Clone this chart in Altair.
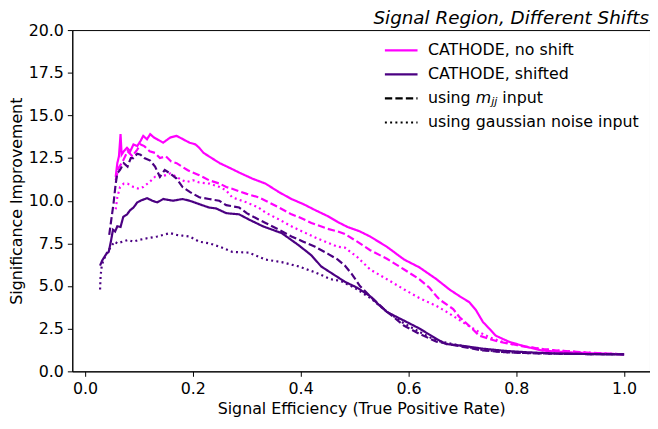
import altair as alt
import pandas as pd

# ---------------- data ----------------
ns_solid_x = [0.057, 0.060, 0.063, 0.066, 0.068, 0.072, 0.078, 0.084, 0.090, 0.097, 0.103, 0.108,
              0.115, 0.121, 0.128, 0.134, 0.145, 0.158, 0.170, 0.182, 0.194, 0.205, 0.212, 0.220,
              0.235, 0.250, 0.270, 0.286, 0.310, 0.335, 0.360, 0.383, 0.405, 0.427, 0.450, 0.469,
              0.487, 0.510, 0.529, 0.560, 0.592, 0.620, 0.652, 0.676, 0.695, 0.713, 0.725, 0.738,
              0.750, 0.762, 0.786, 0.817, 0.848, 0.880, 0.908, 0.950, 1.0]
ns_solid_y = [11.4, 12.2, 12.6, 13.9, 12.7, 12.9, 13.1, 12.9, 13.3, 13.2, 13.5, 13.8,
              13.6, 13.9, 13.7, 13.6, 13.4, 13.7, 13.8, 13.6, 13.4, 13.3, 13.1, 12.8,
              12.5, 12.2, 11.9, 11.65, 11.3, 11.0, 10.5, 10.1, 9.8, 9.45, 9.1, 8.75,
              8.46, 8.2, 7.9, 7.3, 6.55, 6.1, 5.4, 4.8, 4.4, 4.05, 3.6, 2.9,
              2.5, 2.09, 1.74, 1.45, 1.22, 1.15, 1.1, 1.05, 1.0]

ns_dash_x = [0.057, 0.062, 0.070, 0.079, 0.088, 0.097, 0.103, 0.110, 0.120, 0.130, 0.139, 0.150,
             0.160, 0.170, 0.180, 0.190, 0.200, 0.212, 0.230, 0.250, 0.262, 0.273, 0.300, 0.322,
             0.335, 0.360, 0.383, 0.396, 0.420, 0.450, 0.469, 0.482, 0.505, 0.529, 0.560, 0.592,
             0.620, 0.639, 0.652, 0.658, 0.683, 0.694, 0.715, 0.731, 0.750, 0.767, 0.790, 0.817,
             0.850, 0.877, 0.920, 0.960, 1.0]
ns_dash_y = [11.2, 11.9, 12.3, 12.9, 12.6, 13.0, 13.3, 13.2, 12.9, 12.8, 12.5, 12.6,
             12.3, 12.2, 12.0, 11.8, 11.65, 11.5, 11.2, 11.0, 10.8, 10.7, 10.4, 10.2,
             10.0, 9.6, 9.2, 9.05, 8.7, 8.35, 8.2, 8.05, 7.6, 7.1, 6.6, 5.97,
             5.4, 4.9, 4.4, 4.2, 3.65, 3.2, 2.6, 2.1, 1.9, 1.74, 1.6, 1.45,
             1.3, 1.22, 1.12, 1.05, 1.0]

ns_dot_x = [0.057, 0.060, 0.065, 0.072, 0.079, 0.090, 0.100, 0.108, 0.120, 0.130, 0.139, 0.150,
            0.158, 0.170, 0.180, 0.189, 0.200, 0.212, 0.231, 0.250, 0.262, 0.273, 0.300, 0.322,
            0.335, 0.360, 0.383, 0.396, 0.430, 0.469, 0.482, 0.505, 0.529, 0.560, 0.592, 0.620,
            0.652, 0.670, 0.690, 0.710, 0.731, 0.750, 0.767, 0.790, 0.817, 0.850, 0.877, 0.920,
            0.960, 1.0]
ns_dot_y = [9.5, 10.2, 10.8, 11.0, 11.0, 10.8, 10.7, 10.8, 11.1, 11.4, 11.4, 11.5,
            11.6, 11.4, 11.2, 11.1, 11.2, 11.07, 11.0, 10.8, 10.6, 10.2, 9.9, 9.6,
            9.3, 8.9, 8.5, 8.3, 7.8, 7.3, 7.25, 6.7, 5.97, 5.4, 4.8, 4.3,
            3.83, 3.5, 3.1, 2.7, 2.3, 2.0, 1.8, 1.6, 1.45, 1.3, 1.22, 1.12,
            1.05, 1.0]

sh_solid_x = [0.028, 0.032, 0.036, 0.040, 0.044, 0.048, 0.052, 0.056, 0.060, 0.066, 0.071, 0.078,
              0.084, 0.090, 0.097, 0.103, 0.115, 0.125, 0.134, 0.145, 0.163, 0.181, 0.194, 0.212,
              0.230, 0.243, 0.262, 0.286, 0.304, 0.330, 0.365, 0.396, 0.420, 0.438, 0.460, 0.482,
              0.505, 0.529, 0.545, 0.560, 0.590, 0.621, 0.652, 0.670, 0.700, 0.738, 0.780, 0.820,
              0.870, 0.920, 0.960, 1.0]
sh_solid_y = [6.2, 6.5, 6.7, 6.9, 7.0, 7.6, 8.3, 8.2, 8.5, 8.46, 9.05, 9.2,
              9.45, 9.6, 9.9, 10.0, 10.15, 10.0, 9.9, 10.1, 10.0, 10.1, 10.0, 9.8,
              9.6, 9.55, 9.27, 9.2, 8.9, 8.5, 8.1, 7.4, 6.8, 6.15, 5.7, 5.25,
              4.9, 4.4, 3.9, 3.48, 3.0, 2.5, 1.9, 1.6, 1.5, 1.33, 1.2, 1.12,
              1.05, 1.02, 1.0, 1.0]

sh_dash_x = [0.045, 0.048, 0.053, 0.057, 0.060, 0.065, 0.072, 0.079, 0.085, 0.090, 0.097, 0.103,
             0.110, 0.121, 0.130, 0.139, 0.148, 0.158, 0.170, 0.181, 0.195, 0.212, 0.230, 0.249,
             0.262, 0.286, 0.300, 0.322, 0.335, 0.360, 0.383, 0.405, 0.427, 0.450, 0.469, 0.482,
             0.495, 0.510, 0.529, 0.560, 0.592, 0.620, 0.652, 0.690, 0.738, 0.780, 0.830, 0.880,
             0.940, 1.0]
sh_dash_y = [8.0, 8.7, 9.85, 11.0, 11.6, 11.8, 12.2, 12.0, 12.5, 12.5, 12.75, 12.7,
             12.5, 12.35, 12.0, 11.4, 11.8, 11.6, 11.3, 10.8, 10.5, 10.2, 10.1, 10.0,
             9.74, 9.6, 9.27, 8.9, 8.7, 8.3, 7.9, 7.6, 7.3, 6.9, 6.55, 6.2,
             5.7, 5.0, 4.4, 3.5, 2.67, 2.2, 1.74, 1.5, 1.22, 1.12, 1.06, 1.03,
             1.01, 1.0]

sh_dot_x = [0.028, 0.029, 0.031, 0.034, 0.040, 0.048, 0.055, 0.060, 0.070, 0.080, 0.090, 0.100,
            0.115, 0.134, 0.145, 0.158, 0.170, 0.181, 0.194, 0.212, 0.231, 0.250, 0.273, 0.304,
            0.335, 0.365, 0.396, 0.427, 0.456, 0.474, 0.500, 0.529, 0.560, 0.590, 0.621, 0.652,
            0.690, 0.738, 0.780, 0.830, 0.880, 0.940, 1.0]
sh_dot_y = [4.8, 5.6, 6.15, 6.5, 6.9, 7.3, 7.6, 7.5, 7.6, 7.7, 7.6, 7.7,
            7.8, 7.9, 8.0, 8.1, 8.0, 7.95, 7.9, 7.6, 7.5, 7.3, 7.0, 6.96,
            6.55, 6.4, 6.15, 5.8, 5.4, 5.3, 4.9, 4.3, 3.5, 2.85, 2.3, 1.8,
            1.55, 1.25, 1.12, 1.06, 1.03, 1.01, 1.0]

x_ticks = [0.0, 0.2, 0.4, 0.6, 0.8, 1.0]
y_ticks = [0.0, 2.5, 5.0, 7.5, 10.0, 12.5, 15.0, 17.5, 20.0]

legend_labels = ["CATHODE, no shift", "CATHODE, shifted", "using gaussian noise input"]
title_text = "Signal Region, Different Shifts"

MAGENTA = "#ff00ff"
INDIGO = "#4b0082"
FONT = "DejaVu Sans"
FS = 16
W, H = 584, 345

series = [
    ("ns_solid", "noshift", "solid", ns_solid_x, ns_solid_y),
    ("ns_dash", "noshift", "mjj", ns_dash_x, ns_dash_y),
    ("ns_dot", "noshift", "gauss", ns_dot_x, ns_dot_y),
    ("sh_solid", "shifted", "solid", sh_solid_x, sh_solid_y),
    ("sh_dash", "shifted", "mjj", sh_dash_x, sh_dash_y),
    ("sh_dot", "shifted", "gauss", sh_dot_x, sh_dot_y),
]
rows = []
for name, grp, style, xs, ys in series:
    for i, (a, b) in enumerate(zip(xs, ys)):
        rows.append({"series": name, "group": grp, "style": style, "x": a, "y": b, "i": i})
df = pd.DataFrame(rows)

lines = alt.Chart(df).mark_line(strokeWidth=2.2, strokeCap="butt").encode(
    x=alt.X("x:Q", scale=alt.Scale(domain=[-0.0235, 1.048], nice=False, zero=False),
            axis=alt.Axis(values=x_ticks, format=".1f", title="Signal Efficiency (True Positive Rate)",
                          titlePadding=5)),
    y=alt.Y("y:Q", scale=alt.Scale(domain=[0, 20], nice=False),
            axis=alt.Axis(values=y_ticks, format=".1f", title="Significance Improvement",
                          titlePadding=4)),
    color=alt.Color("group:N", scale=alt.Scale(domain=["noshift", "shifted"], range=[MAGENTA, INDIGO]),
                    legend=None),
    strokeDash=alt.StrokeDash("style:N",
                              scale=alt.Scale(domain=["solid", "mjj", "gauss"],
                                              range=[[1, 0], [7.4, 3.2], [2, 3.3]]),
                              legend=None),
    detail="series:N",
    order="i:Q",
)

one = pd.DataFrame({"k": [0]})
LX1, LX2, TX = 316, 349, 359.5
ROWS = [20.5, 44.8, 69.1, 93.4]

def lrule(color, dash, yv):
    return alt.Chart(one).mark_rule(color=color, strokeDash=dash, strokeWidth=2.2, strokeCap="butt").encode(
        x=alt.value(LX1), x2=alt.value(LX2), y=alt.value(yv))

def ltext(txt, xv, yv, size=FS, style="normal", dy=0, align="left", baseline="middle"):
    return alt.Chart(one).mark_text(align=align, baseline=baseline, font=FONT, fontSize=size,
                                    fontStyle=style, color="black", dy=dy).encode(
        x=alt.value(xv), y=alt.value(yv), text=alt.value(txt))

w_using = 3.02 * FS
w_m = 0.974 * FS
w_jj = 2 * 0.278 * FS * 0.7

legend_layers = [
    lrule(MAGENTA, [1, 0], ROWS[0]), ltext(legend_labels[0], TX, ROWS[0]),
    lrule(INDIGO, [1, 0], ROWS[1]), ltext(legend_labels[1], TX, ROWS[1]),
    lrule("black", [7.4, 3.2], ROWS[2]),
    ltext("using", TX, ROWS[2]),
    ltext("m", TX + w_using, ROWS[2], style="italic"),
    ltext("jj", TX + w_using + w_m, ROWS[2], size=FS * 0.7, style="italic", dy=4),
    ltext("input", TX + w_using + w_m + w_jj + 0.318 * FS, ROWS[2]),
    lrule("black", [2, 3.3], ROWS[3]), ltext(legend_labels[2], TX, ROWS[3]),
]

title_layer = ltext(title_text, W - 1, -6, size=18.5, style="italic", align="right", baseline="alphabetic")

chart = alt.layer(lines, *legend_layers, title_layer).properties(
    width=W, height=H,
    padding={"left": 65, "top": 20, "right": 0, "bottom": 60},
    autosize=alt.AutoSizeParams(type="none"),
).configure_view(stroke="black", strokeWidth=1).configure_axis(
    labelFont=FONT, labelFontSize=FS, labelColor="black", titleFont=FONT, titleFontSize=FS,
    titleFontWeight="normal", titleColor="black", domainColor="black", tickColor="black",
    tickSize=5, grid=False, labelPadding=4,
)

chart.save("out.html", embed_options={"renderer": "svg", "actions": False})
